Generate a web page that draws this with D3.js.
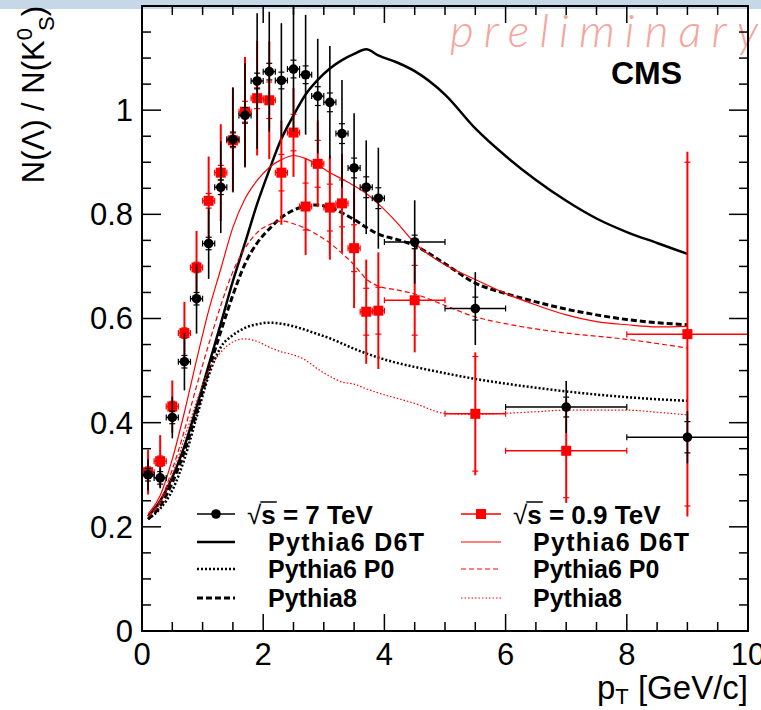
<!DOCTYPE html>
<html>
<head>
<meta charset="utf-8">
<script src="https://cdn.jsdelivr.net/npm/d3@7"></script>
<style>
body { margin: 0; background: #fff; }
svg { display: block; font-family: "Liberation Sans", Arial, sans-serif; }
</style>
</head>
<body>
<svg id="chart" width="761" height="710"></svg>
<script>
// measured points (same pT bins for both energies)
const ptBins = [0.1,0.3,0.5,0.7,0.9,1.1,1.3,1.5,1.7,1.9,2.1,2.3,2.5,2.7,2.9,3.1,3.3,3.5,3.7,3.9,4.5,5.5,7.0,9.0];
const ptHalfWidth = [0.1,0.1,0.1,0.1,0.1,0.1,0.1,0.1,0.1,0.1,0.1,0.1,0.1,0.1,0.1,0.1,0.1,0.1,0.1,0.1,0.5,0.5,1.0,1.0];

// sqrt(s) = 7 TeV
const ratio7 = [0.30,0.294,0.41,0.517,0.638,0.744,0.852,0.944,0.99,1.056,1.074,1.057,1.079,1.068,1.027,1.015,0.955,0.889,0.852,0.831,0.747,0.619,0.43,0.372];
const totErr7 = [0.03,0.02,0.04,0.055,0.067,0.068,0.088,0.1,0.1,0.13,0.115,0.11,0.12,0.115,0.11,0.108,0.103,0.105,0.09,0.097,0.08,0.07,0.05,0.05];
const statErr7 = [0.012,0.012,0.012,0.012,0.012,0.012,0.014,0.014,0.015,0.015,0.016,0.016,0.017,0.017,0.018,0.018,0.019,0.019,0.02,0.02,0.013,0.022,0.019,0.03];

// sqrt(s) = 0.9 TeV
const ratio09 = [0.305,0.326,0.431,0.572,0.698,0.826,0.88,0.942,0.997,1.023,1.019,0.88,0.957,0.815,0.897,0.813,0.821,0.735,0.613,0.615,0.635,0.417,0.346,0.57];
const totErr09 = [0.043,0.05,0.05,0.06,0.07,0.085,0.093,0.1,0.105,0.11,0.113,0.1,0.085,0.093,0.083,0.1,0.095,0.115,0.1,0.112,0.1,0.118,0.1,0.35];
const statErr09 = [0.01,0.01,0.01,0.01,0.01,0.014,0.014,0.014,0.02,0.02,0.035,0.035,0.035,0.045,0.045,0.045,0.045,0.045,0.045,0.045,0.067,0.11,0.09,0.33];

// MC predictions
const mcPt = [0.1,0.3,0.5,0.7,0.9,1.1,1.3,1.5,1.7,1.9,2.1,2.3,2.5,2.7,2.9,3.1,3.3,3.5,3.7,3.9,4.2,4.5,5.0,5.5,6.0,6.5,7.0,7.5,8.0,8.5,9.0];
const d6t7 = [0.22,0.25,0.295,0.355,0.43,0.51,0.59,0.672,0.745,0.82,0.885,0.945,0.99,1.03,1.058,1.08,1.096,1.108,1.117,1.105,1.092,1.075,1.03,0.965,0.912,0.866,0.826,0.792,0.766,0.745,0.724];
const p07 = [0.215,0.235,0.27,0.33,0.41,0.49,0.545,0.568,0.582,0.589,0.592,0.59,0.585,0.578,0.57,0.562,0.552,0.542,0.533,0.525,0.515,0.507,0.495,0.484,0.475,0.467,0.46,0.454,0.449,0.445,0.442];
const py87 = [0.215,0.24,0.285,0.345,0.42,0.5,0.575,0.645,0.705,0.745,0.772,0.794,0.808,0.816,0.818,0.813,0.803,0.79,0.775,0.762,0.752,0.74,0.705,0.668,0.648,0.632,0.618,0.607,0.598,0.592,0.588];
const d6t09 = [0.225,0.26,0.33,0.42,0.52,0.615,0.695,0.775,0.83,0.865,0.89,0.905,0.913,0.907,0.895,0.88,0.868,0.855,0.84,0.82,0.785,0.745,0.703,0.675,0.648,0.626,0.607,0.594,0.588,0.584,0.585];
const p009 = [0.22,0.25,0.31,0.385,0.47,0.55,0.625,0.69,0.735,0.765,0.78,0.787,0.782,0.773,0.76,0.745,0.725,0.703,0.676,0.662,0.655,0.647,0.625,0.603,0.59,0.58,0.572,0.566,0.56,0.552,0.543];
const py809 = [0.22,0.245,0.3,0.37,0.44,0.5,0.535,0.555,0.561,0.556,0.545,0.536,0.53,0.52,0.503,0.489,0.478,0.474,0.465,0.457,0.447,0.437,0.418,0.416,0.418,0.421,0.424,0.424,0.424,0.42,0.415];

const xTickLabels = ["0","2","4","6","8","10"];
const yTickLabels = ["0","0.2","0.4","0.6","0.8","1"];

const svg = d3.select('#chart');
const x = d3.scaleLinear().domain([0, 10]).range([142, 748]);
const y = d3.scaleLinear().domain([0, 1.2]).range([631, 6]);

// top band
svg.append('rect').attr('x', 0).attr('y', 0).attr('width', 761).attr('height', 9).attr('fill', '#c6d7e7');

svg.append('defs').append('clipPath').attr('id', 'frame-clip')
    .append('rect').attr('x', x(0)).attr('y', y(1.2)).attr('width', x(10) - x(0)).attr('height', y(0) - y(1.2));

// preliminary + CMS
svg.append('text')
    .attr('x', 450).attr('y', 47)
    .attr('textLength', 308)
    .style('font-family', 'Lato, "DejaVu Sans", sans-serif')
    .style('font-style', 'italic')
    .style('font-weight', 300)
    .style('font-size', '46px')
    .attr('fill', '#f6a49c')
    .text('preliminary');

svg.append('text')
    .attr('x', 611).attr('y', 84)
    .style('font-weight', 'bold')
    .style('font-size', '32px')
    .text('CMS');

// MC curves
const line = d3.line()
    .x(d => x(d[0]))
    .y(d => y(d[1]))
    .curve(d3.curveMonotoneX);

const curves = [
    { vals: d6t7, color: '#000', width: 2.5, dash: null },
    { vals: p07, color: '#000', width: 2.5, dash: '2,2' },
    { vals: py87, color: '#000', width: 3, dash: '6,3' },
    { vals: d6t09, color: '#f00', width: 1.2, dash: null },
    { vals: p009, color: '#f00', width: 1.2, dash: '5,3' },
    { vals: py809, color: '#f00', width: 1.2, dash: '1.5,2' }
];

let cg = svg.append('g').attr('clip-path', 'url(#frame-clip)');
curves.forEach(c => {
    cg.append('path')
        .datum(mcPt.map((p, i) => [p, c.vals[i]]))
        .attr('d', line)
        .attr('fill', 'none')
        .attr('stroke', c.color)
        .attr('stroke-width', c.width)
        .attr('stroke-dasharray', c.dash);
});

// data points with errors
function drawSeries (vals, tot, stat, color, lw, marker)
{
    let g = svg.append('g').attr('clip-path', 'url(#frame-clip)');
    ptBins.forEach((p, i) => {
        let cx = x(p), cy = y(vals[i]);
        // total error
        g.append('line')
            .attr('x1', cx).attr('x2', cx)
            .attr('y1', y(vals[i] - tot[i])).attr('y2', y(vals[i] + tot[i]))
            .attr('stroke', color).attr('stroke-width', lw);
        // stat error ticks
        [vals[i] - stat[i], vals[i] + stat[i]].forEach(v => {
            g.append('line')
                .attr('x1', cx - 3).attr('x2', cx + 3)
                .attr('y1', y(v)).attr('y2', y(v))
                .attr('stroke', color).attr('stroke-width', 1.2);
        });
        // bin width
        let xl = x(p - ptHalfWidth[i]), xr = x(p + ptHalfWidth[i]);
        g.append('line')
            .attr('x1', xl).attr('x2', xr).attr('y1', cy).attr('y2', cy)
            .attr('stroke', color).attr('stroke-width', 1.5);
        [xl, xr].forEach(xx => {
            g.append('line')
                .attr('x1', xx).attr('x2', xx).attr('y1', cy - 3).attr('y2', cy + 3)
                .attr('stroke', color).attr('stroke-width', 1.2);
        });
    });
    ptBins.forEach((p, i) => {
        if (marker === 'circle') {
            g.append('circle').attr('cx', x(p)).attr('cy', y(vals[i])).attr('r', 4.8).attr('fill', color);
        } else {
            g.append('rect').attr('x', x(p) - 5).attr('y', y(vals[i]) - 5)
                .attr('width', 10).attr('height', 10).attr('fill', color);
        }
    });
}

drawSeries(ratio09, totErr09, statErr09, '#f00', 2, 'square');
drawSeries(ratio7, totErr7, statErr7, '#000', 1.6, 'circle');

// frame and ticks
let ax = svg.append('g');
ax.append('rect')
    .attr('x', x(0)).attr('y', y(1.2)).attr('width', x(10) - x(0)).attr('height', y(0) - y(1.2))
    .attr('fill', 'none').attr('stroke', '#000').attr('stroke-width', 2);

d3.range(0, 10.01, 0.5).forEach(t => {
    let len = (Math.abs(t / 2 - Math.round(t / 2)) < 1e-6) ? 17 : 9;
    ax.append('line').attr('x1', x(t)).attr('x2', x(t)).attr('y1', y(0)).attr('y2', y(0) - len)
        .attr('stroke', '#000').attr('stroke-width', 1.5);
    ax.append('line').attr('x1', x(t)).attr('x2', x(t)).attr('y1', y(1.2)).attr('y2', y(1.2) + len)
        .attr('stroke', '#000').attr('stroke-width', 1.5);
});
d3.range(0, 1.2001, 0.05).forEach(t => {
    let len = (Math.abs(t / 0.2 - Math.round(t / 0.2)) < 1e-6) ? 19 : 9;
    ax.append('line').attr('x1', x(0)).attr('x2', x(0) + len).attr('y1', y(t)).attr('y2', y(t))
        .attr('stroke', '#000').attr('stroke-width', 1.5);
    ax.append('line').attr('x1', x(10)).attr('x2', x(10) - len).attr('y1', y(t)).attr('y2', y(t))
        .attr('stroke', '#000').attr('stroke-width', 1.5);
});

xTickLabels.forEach((lab, i) => {
    ax.append('text')
        .attr('x', x(i * 2)).attr('y', 665)
        .attr('text-anchor', 'middle')
        .style('font-size', '31px')
        .text(lab);
});
yTickLabels.forEach((lab, i) => {
    ax.append('text')
        .attr('x', 133).attr('y', y(i * 0.2)).attr('dy', '0.35em')
        .attr('text-anchor', 'end')
        .style('font-size', '31px')
        .text(lab);
});

// axis titles
let xt = ax.append('text')
    .attr('x', 748).attr('y', 699)
    .attr('text-anchor', 'end')
    .style('font-size', '33px');
xt.append('tspan').text('p');
xt.append('tspan').attr('dy', 5).style('font-size', '22px').text('T');
xt.append('tspan').attr('dy', -5).text(' [GeV/c]');

let yt = ax.append('text')
    .attr('transform', 'translate(44,6) rotate(-90)')
    .attr('text-anchor', 'end')
    .style('font-size', '31px');
yt.append('tspan').text('N(\u039B) / N(K');
yt.append('tspan').attr('dy', -12).style('font-size', '22px').text('0');
yt.append('tspan').attr('dy', 22).attr('dx', -3).style('font-size', '22px').text('S');
yt.append('tspan').attr('dy', -10).text(')');

// legend
const legendRows = [514, 542, 569, 598];
const legendNames = ['Pythia6 D6T', 'Pythia6 P0', 'Pythia8'];
const legendCols = [
    { x0: 197, x1: 235, sx: 247, nx: 268, energy: '7 TeV', color: '#000', marker: 'circle', curves: curves.slice(0, 3) },
    { x0: 461, x1: 501, sx: 513, nx: 533, energy: '0.9 TeV', color: '#f00', marker: 'square', curves: curves.slice(3) }
];
let lg = svg.append('g');
legendCols.forEach(col => {
    let ry = legendRows[0];
    lg.append('line').attr('x1', col.x0).attr('x2', col.x1).attr('y1', ry).attr('y2', ry)
        .attr('stroke', col.color).attr('stroke-width', 1.5);
    let mx = (col.x0 + col.x1) / 2;
    if (col.marker === 'circle') {
        lg.append('circle').attr('cx', mx).attr('cy', ry).attr('r', 4.8).attr('fill', col.color);
    } else {
        lg.append('rect').attr('x', mx - 5).attr('y', ry - 5).attr('width', 10).attr('height', 10).attr('fill', col.color);
    }
    let st = lg.append('text').attr('x', col.sx).attr('y', ry + 10).style('font-size', '26px');
    st.append('tspan').text('\u221A');
    st.append('tspan').style('font-weight', 'bold').text('s = ' + col.energy);
    // bar over the s
    let node = st.node();
    let rootW = node.getSubStringLength(0, 1);
    let sW = node.getSubStringLength(1, 1);
    lg.append('line')
        .attr('x1', col.sx + rootW - 1).attr('x2', col.sx + rootW + sW + 1)
        .attr('y1', ry - 12).attr('y2', ry - 12)
        .attr('stroke', '#000').attr('stroke-width', 1.5);

    col.curves.forEach((c, k) => {
        let yy = legendRows[k + 1];
        lg.append('line').attr('x1', col.x0).attr('x2', col.x1).attr('y1', yy).attr('y2', yy)
            .attr('stroke', c.color).attr('stroke-width', c.width).attr('stroke-dasharray', c.dash);
        lg.append('text').attr('x', col.nx).attr('y', yy + 9)
            .attr('textLength', k === 0 ? 156 : null)
            .style('font-size', '25px').style('font-weight', 'bold')
            .text(legendNames[k]);
    });
});
</script>
</body>
</html>
